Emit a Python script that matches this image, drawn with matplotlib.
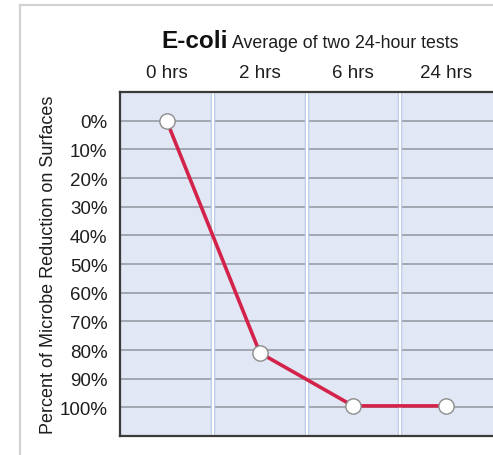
import matplotlib
matplotlib.use("Agg")
import matplotlib.pyplot as plt
from matplotlib.lines import Line2D

# data
hours = ["0 hrs", "2 hrs", "6 hrs", "24 hrs"]
reduction = [0, 81, 99.5, 99.5]
pct_ticks = [0, 10, 20, 30, 40, 50, 60, 70, 80, 90, 100]
pct_labels = [f"{p}%" for p in pct_ticks]

plt.rcParams['font.family'] = ['Liberation Sans', 'DejaVu Sans']

W, H = 493, 456
fig = plt.figure(figsize=(W / 100, H / 100), dpi=100)

# light frame around the figure (top and left edges)
fig.add_artist(Line2D([20 / W, 20 / W], [0, 1 - 6 / H], color="#d2d2d2", lw=1.6))
fig.add_artist(Line2D([20 / W, 1], [1 - 6 / H, 1 - 6 / H], color="#d2d2d2", lw=1.6))

ax = fig.add_axes([120 / W, 1 - 437 / H, 1 - 120 / W, (437 - 93) / H])
ax.set_facecolor("#e1e7f4")

x = list(range(len(hours)))
ax.set_xlim(-0.5, len(hours) - 0.5)
ax.set_ylim(110, -10)

# horizontal grid
for p in pct_ticks:
    ax.axhline(p, color="#979ca6", lw=1.2, zorder=1)
# column separators: white with bluish edge
for xs in [0.5, 1.5, 2.5]:
    ax.axvline(xs, color="#b8c8e6", lw=3.2, zorder=1)
    ax.axvline(xs, color="white", lw=1.6, zorder=1)

ax.plot(x, reduction, color="#d4234a", lw=2.6, zorder=3,
        marker="o", ms=11, mfc="white", mec="#8c8c8c", mew=1.0)

ax.set_yticks(pct_ticks)
ax.set_yticklabels(pct_labels, fontsize=13.5, color="#1e1e1e")
ax.set_xticks(x)
ax.set_xticklabels(hours, fontsize=13.5, color="#1e1e1e")
ax.xaxis.tick_top()
ax.tick_params(axis="both", length=0)
ax.tick_params(axis="x", pad=8)
ax.tick_params(axis="y", pad=9)

for side in ["left", "bottom", "top"]:
    ax.spines[side].set_color("#3a3a3a")
    ax.spines[side].set_linewidth(1.6)
ax.spines["right"].set_visible(False)

ax.set_ylabel("Percent of Microbe Reduction on Surfaces", fontsize=13, color="#1e1e1e", labelpad=2)

fig.text(228 / W, 1 - 42 / H, "E-coli", fontsize=17.5, fontweight="bold", ha="right", va="center", color="#111111")
fig.text(232 / W, 1 - 43 / H, "Average of two 24-hour tests", fontsize=12.8, ha="left", va="center", color="#1e1e1e")

fig.savefig("out.png", dpi=100)
